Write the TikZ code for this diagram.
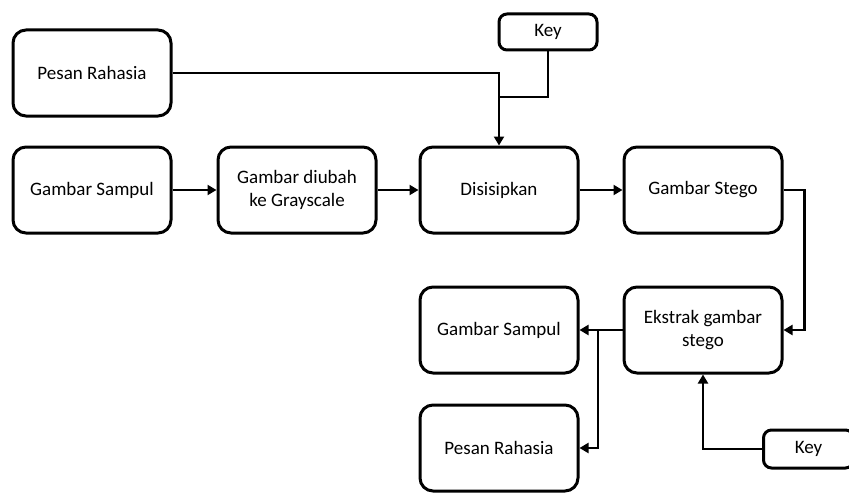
\documentclass[tikz,border=0pt]{standalone}
\usepackage{fontspec}
\setmainfont{Carlito}
\usetikzlibrary{arrows.meta}
\begin{document}
\begin{tikzpicture}[x=1pt,y=-1pt,
  box/.style={draw, line width=3pt, rounded corners=13pt, align=center, font=\fontsize{19}{23}\selectfont, inner sep=0pt},
  conn/.style={line width=2.8pt, -{Triangle[length=9pt,width=10pt]}},
  plain/.style={line width=2.8pt}]
\useasboundingbox (0,0) rectangle (849,495);
\node[box, minimum width=158pt, minimum height=86pt] (pr1) at (92,73) {Pesan Rahasia};
\node[box, minimum width=98pt, minimum height=36pt, rounded corners=8pt] (key1) at (548,32) {Key};
\node[box, minimum width=158pt, minimum height=86pt] (gs1) at (92,190) {Gambar Sampul};
\node[box, minimum width=158pt, minimum height=86pt] (gray) at (297,190) {Gambar diubah\\ke Grayscale};
\node[box, minimum width=158pt, minimum height=86pt] (dis) at (499,190) {Disisipkan};
\node[box, minimum width=158pt, minimum height=86pt] (stego) at (703,190) {Gambar Stego};
\node[box, minimum width=158pt, minimum height=86pt] (ext) at (703,330) {Ekstrak gambar\\stego};
\node[box, minimum width=158pt, minimum height=86pt] (gs2) at (499,330) {Gambar Sampul};
\node[box, minimum width=158pt, minimum height=86pt] (pr2) at (499,448) {Pesan Rahasia};
\node[box, minimum width=90pt, minimum height=38pt, rounded corners=8pt, anchor=west] (key2) at (762,449) {Key};
\coordinate (m1) at (499,97);
\coordinate (b1) at (598,330);
\draw[plain] (pr1.east) -| (m1);
\draw[plain] (key1.south) |- (m1);
\draw[conn] (m1) -- (dis.north);
\draw[conn] (gs1) -- (gray);
\draw[conn] (gray) -- (dis);
\draw[conn] (dis) -- (stego);
\draw[conn] (stego.east) -- ++(21,0) |- (ext.east);
\draw[conn] (ext.west) -- (gs2.east);
\draw[conn] (b1) |- (pr2.east);
\draw[conn] (key2.west) -| (ext.south);
\end{tikzpicture}
\end{document}
